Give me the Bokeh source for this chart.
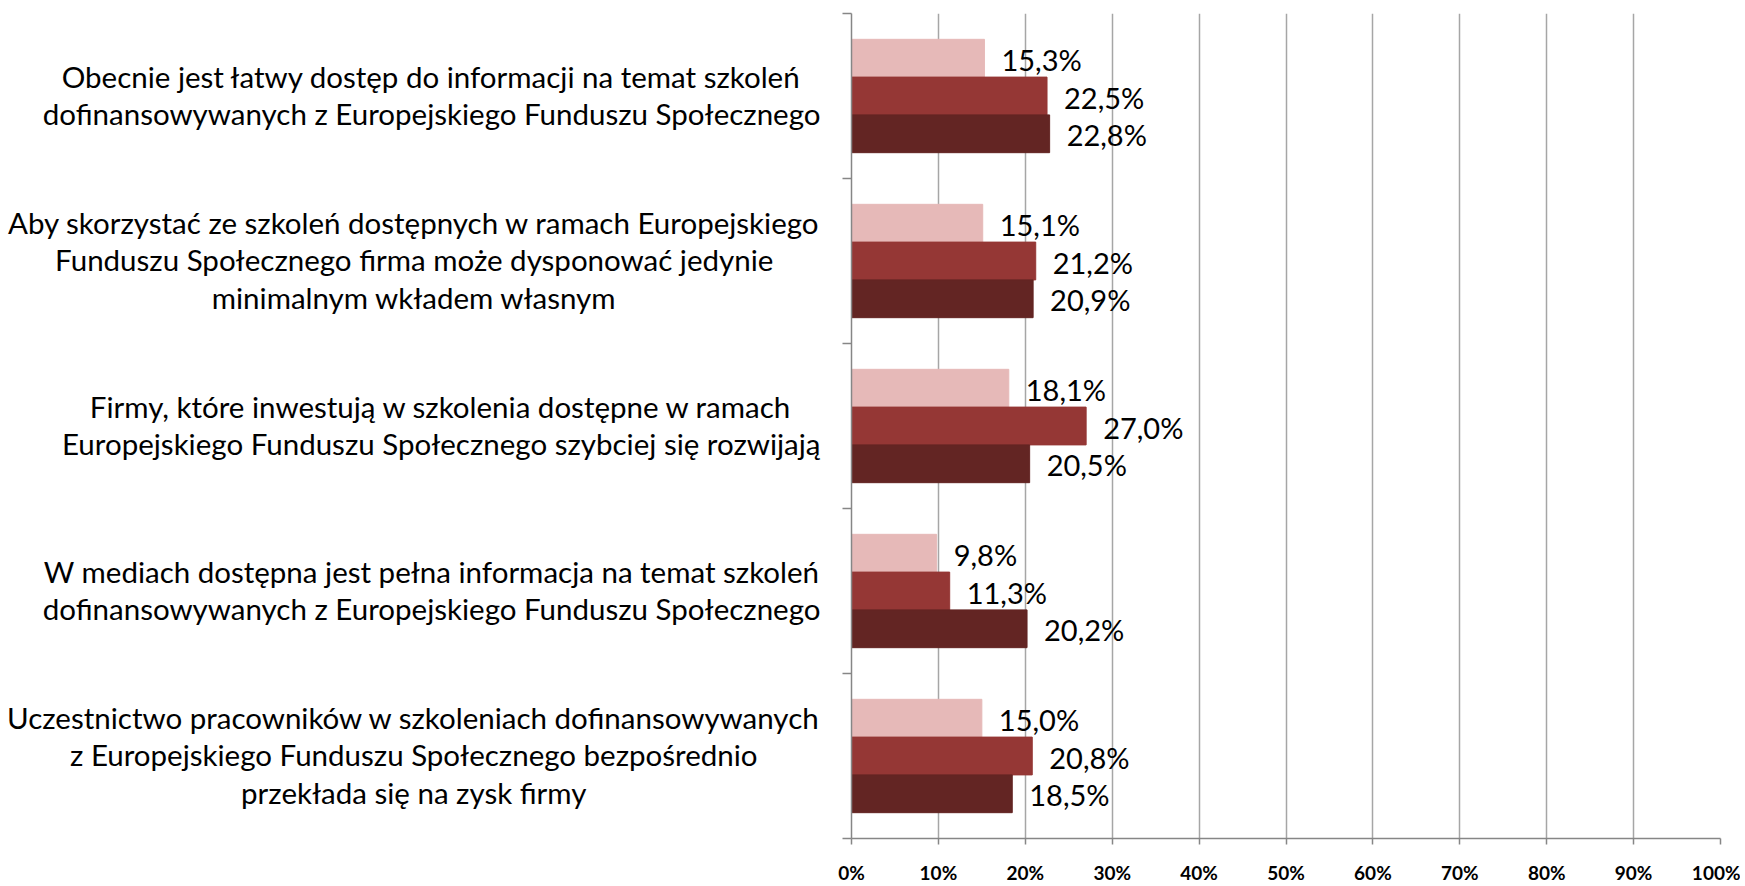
from bokeh.plotting import figure
from bokeh.models import Range1d, FixedTicker, ColumnDataSource, Label
from bokeh.layouts import row
from bokeh.embed import file_html
from bokeh.resources import INLINE
from bokeh.core.properties import value

categories = [
    "Obecnie jest łatwy dostęp do informacji na temat szkoleń\ndofinansowywanych z Europejskiego Funduszu Społecznego",
    "Aby skorzystać ze szkoleń dostępnych w ramach Europejskiego\nFunduszu Społecznego firma może dysponować jedynie\nminimalnym wkładem własnym",
    "Firmy, które inwestują w szkolenia dostępne w ramach\nEuropejskiego Funduszu Społecznego szybciej się rozwijają",
    "W mediach dostępna jest pełna informacja na temat szkoleń\ndofinansowywanych z Europejskiego Funduszu Społecznego",
    "Uczestnictwo pracowników w szkoleniach dofinansowywanych\nz Europejskiego Funduszu Społecznego bezpośrednio\nprzekłada się na zysk firmy",
]
series_names = ["Seria 1", "Seria 2", "Seria 3"]
series_1 = [15.3, 15.1, 18.1, 9.8, 15.0]
series_2 = [22.5, 21.2, 27.0, 11.3, 20.8]
series_3 = [22.8, 20.9, 20.5, 20.2, 18.5]
x_ticks = [0, 10, 20, 30, 40, 50, 60, 70, 80, 90, 100]
x_tick_labels = ["0%", "10%", "20%", "30%", "40%", "50%", "60%", "70%", "80%", "90%", "100%"]

colors = ["#E6B9B8", "#953735", "#632523"]
bar_h = 0.229
offsets = [-bar_h, 0.0, bar_h]
FONT = "Lato"
H = 886
TOP, BOTTOM = 13, 45
LEFT_W = 831

n = len(categories)
centers = [i + 0.5 for i in range(n)]

# ---- left panel: category labels (centred lines, right-aligned block) ----
lp = figure(width=LEFT_W, height=H, x_range=Range1d(0, LEFT_W), y_range=Range1d(n, 0),
            output_backend="svg", toolbar_location=None,
            x_axis_location=None, y_axis_location=None,
            min_border_left=0, min_border_right=0, min_border_top=TOP, min_border_bottom=BOTTOM)
lp.outline_line_color = None
lp.xgrid.visible = False
lp.ygrid.visible = False
for c, lab in zip(centers, categories):
    lp.add_layout(Label(x=LEFT_W - 11, y=c, y_offset=1, text=lab,
                        text_align="center", text_baseline="middle", anchor="center_right",
                        text_font=FONT, text_font_size="29.5px", text_color="black",
                        text_line_height=1.08))

# ---- main chart ----
p = figure(width=1740 - LEFT_W, height=H, x_range=Range1d(0, 100), y_range=lp.y_range,
           output_backend="svg", toolbar_location=None,
           min_border_left=20, min_border_right=20, min_border_top=TOP, min_border_bottom=BOTTOM)
p.outline_line_color = None
p.background_fill_color = "white"
p.border_fill_color = "white"

p.ygrid.visible = False
p.xgrid.ticker = FixedTicker(ticks=x_ticks[1:])
p.xgrid.grid_line_color = "#A6A6A6"
p.xgrid.grid_line_width = 1.5

xa = p.xaxis[0]
xa.ticker = FixedTicker(ticks=x_ticks)
xa.major_label_overrides = {t: l for t, l in zip(x_ticks, x_tick_labels)}
xa.axis_line_color = "#868686"
xa.axis_line_width = 1.5
xa.major_tick_line_color = "#868686"
xa.major_tick_line_width = 1.5
xa.major_tick_out = 6
xa.major_tick_in = 0
xa.minor_tick_out = 0
xa.minor_tick_in = 0
xa.major_label_text_font = FONT
xa.major_label_text_font_style = "bold"
xa.major_label_text_font_size = "19px"
xa.major_label_text_color = "black"
xa.major_label_standoff = 16

ya = p.yaxis[0]
ya.ticker = FixedTicker(ticks=centers, minor_ticks=list(range(n + 1)))
ya.major_label_overrides = {c: "" for c in centers}
ya.major_label_standoff = 0
ya.axis_line_color = "#868686"
ya.axis_line_width = 1.5
ya.major_tick_out = 0
ya.major_tick_in = 0
ya.minor_tick_out = 9
ya.minor_tick_in = 0
ya.minor_tick_line_color = "#868686"
ya.minor_tick_line_width = 1.5

for j, vals in enumerate([series_1, series_2, series_3]):
    ys = [i + 0.5 + offsets[j] for i in range(n)]
    src = ColumnDataSource(dict(
        y=ys, v=vals,
        lab=[f"{v:.1f}".replace(".", ",") + "%" for v in vals]))
    p.hbar(y="y", right="v", left=0, height=bar_h, source=src,
           fill_color=colors[j], line_color=colors[j], legend_label=series_names[j])
    p.text(x="v", y="y", text="lab", source=src, x_offset=17, y_offset=1,
           text_baseline="middle", text_align="left",
           text_font=value(FONT), text_font_size="29px", text_color="black")

p.legend.visible = False

layout = row(lp, p, spacing=0)
open("out.html", "w").write(file_html(layout, INLINE))
